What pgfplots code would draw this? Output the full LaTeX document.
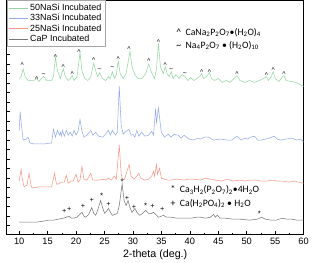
\documentclass[border=0pt]{standalone}
\usepackage{fontspec}
\setmainfont{Liberation Sans}
\newfontfamily\calfont{Carlito}
\usepackage{pgfplots}
\pgfplotsset{compat=1.18}
\definecolor{cgreen}{RGB}{150,212,165}
\definecolor{cblue}{RGB}{150,170,232}
\definecolor{cred}{RGB}{248,150,138}
\definecolor{cblack}{RGB}{120,120,120}
\begin{document}
\begin{tikzpicture}
\begin{axis}[
  width=304bp, height=240bp, scale only axis,
  xmin=7.8, xmax=60, ymin=0, ymax=240,
  xtick={10,15,...,60}, minor x tick num=1,
  ytick={9.7,19.4,...,236}, yticklabels={},
  xtick pos=bottom, ytick pos=left, tick align=inside,
  major tick length=3.5pt, minor tick length=2pt,
  /pgf/number format/assume math mode=true,
  ticklabel style={font=\fontsize{9.5}{11}\selectfont},
  xlabel={2-theta (deg.)},
  xlabel style={font=\fontsize{11}{13}\selectfont, yshift=2pt},
  axis line style={line width=0.8pt},
  every tick/.style={black, line width=0.6pt},
  legend style={at={(0,1)}, anchor=north west, draw=gray!70,
    font=\fontsize{9.2}{11}\selectfont, row sep=-1.5pt, inner sep=1.5pt,
    legend cell align=left},
  legend image code/.code={\draw[#1] (0cm,0cm) -- (0.7cm,0cm);},
  every axis plot/.append style={line width=0.55pt},
]
\addplot[cgreen] coordinates {
(10.0,160)(10.34,162)(10.69,170)(11.03,162)(11.55,158)(12.59,158)(13.10,160)(13.45,157)(13.97,160)(14.31,162)(14.83,158)(15.69,158)(16.03,162)(16.38,182)(16.72,168)(17.24,160)(17.41,164)(17.76,170)(18.10,162)(18.62,158)(18.97,160)(19.31,163)(19.66,158)(20.17,162)(20.69,187)(21.03,168)(21.55,160)(22.07,158)(22.59,162)(23.10,176)(23.45,168)(23.79,162)(24.14,166)(24.66,160)(25.17,158)(25.69,162)(26.03,160)(26.38,167)(26.72,160)(27.07,164)(27.41,178)(27.76,165)(28.28,160)(28.79,165)(29.48,188)(29.83,172)(30.34,164)(30.86,160)(31.55,160)(32.24,165)(32.76,175)(33.28,166)(33.79,160)(34.14,170)(34.48,196)(34.83,172)(35.34,165)(35.69,172)(36.03,164)(36.38,162)(36.72,167)(37.07,160)(37.59,164)(38.10,160)(38.62,164)(39.14,162)(39.66,158)(40.17,161)(40.69,158)(41.21,160)(41.72,162)(42.07,165)(42.41,160)(42.93,162)(43.45,166)(43.79,160)(44.31,158)(45.0,160)(45.69,156)(46.38,158)(47.07,156)(47.76,160)(48.28,163)(48.79,158)(49.66,156)(50.52,158)(51.38,156)(52.24,158)(52.93,160)(53.45,162)(53.79,158)(54.31,162)(54.66,167)(55.0,160)(55.69,157)(56.21,161)(56.55,163)(56.90,158)(57.76,157)(58.62,156)(59.31,154)(60.0,152)
};
\addlegendentry{50NaSi Incubated}
\addplot[cblue] coordinates {
(10.0,107)(10.17,126)(10.34,115)(10.69,97)(11.21,98)(11.55,100)(11.90,94)(12.59,93)(14.31,93)(15.69,94)(16.03,108)(16.38,100)(16.72,107)(17.07,102)(17.24,105)(17.41,101)(17.59,107)(17.93,101)(18.28,107)(18.62,102)(18.97,105)(19.31,101)(19.66,107)(20.0,102)(20.34,106)(20.69,118)(21.03,106)(21.38,100)(21.90,102)(22.59,107)(22.93,102)(23.45,105)(23.97,101)(24.66,100)(25.17,103)(25.69,107)(26.03,102)(26.38,107)(26.90,102)(27.24,105)(27.59,152)(27.93,112)(28.28,103)(28.79,106)(29.31,108)(29.66,102)(30.0,103)(30.34,100)(30.69,107)(31.03,101)(31.55,105)(32.07,101)(32.76,102)(33.28,106)(33.62,102)(33.97,129)(34.14,115)(34.48,130)(34.83,112)(35.0,105)(35.52,100)(36.21,103)(36.72,100)(37.24,103)(37.93,102)(38.45,99)(38.97,102)(39.83,98)(40.69,97)(41.38,99)(41.90,98)(42.59,100)(43.28,100)(44.14,97)(45.34,98)(46.55,97)(47.41,97)(48.28,101)(48.97,97)(49.66,99)(50.17,98)(50.69,100)(51.38,101)(51.90,97)(52.59,97)(53.28,98)(53.97,99)(54.83,101)(55.34,98)(56.03,97)(56.90,98)(57.93,99)(58.79,97)(59.48,98)(60.0,95)
};
\addlegendentry{33NaSi Incubated}
\addplot[cred] coordinates {
(10.0,55)(10.34,67)(10.52,58)(10.86,49)(11.38,51)(11.72,63)(12.07,51)(12.24,48)(13.45,49)(14.66,49)(15.69,49)(16.21,63)(16.55,52)(16.90,52)(17.41,54)(17.93,54)(18.28,61)(18.62,53)(19.14,55)(19.48,55)(20.0,62)(20.34,54)(20.69,56)(21.03,70)(21.38,57)(21.90,56)(22.59,63)(22.93,56)(23.28,56)(23.97,56)(24.66,57)(25.17,56)(25.69,58)(26.21,56)(26.72,60)(27.07,57)(27.59,92)(27.93,62)(28.10,58)(28.45,56)(28.79,62)(29.31,72)(29.66,60)(30.17,57)(30.69,60)(31.03,63)(31.38,58)(32.07,56)(32.76,57)(33.28,60)(33.62,65)(33.79,60)(34.14,72)(34.31,62)(34.66,68)(35.0,58)(35.52,57)(36.21,56)(36.72,56)(37.76,57)(38.97,56)(39.83,57)(40.69,57)(41.90,56)(42.76,58)(43.62,57)(44.48,56)(45.69,55)(46.55,57)(47.59,55)(48.79,56)(49.66,55)(50.52,56)(51.72,56)(52.59,55)(53.45,55)(54.48,56)(55.34,55)(56.21,55)(57.41,54)(58.45,55)(59.66,53)(60.0,53)
};
\addlegendentry{25NaSi Incubated}
\addplot[cblack] coordinates {
(10.0,13)(11.72,13)(13.10,13)(14.31,14)(15.17,15)(16.03,15)(16.90,16)(17.76,17)(18.28,18)(18.79,19)(19.14,17)(19.48,17)(20.17,18)(20.69,21)(21.03,23)(21.38,19)(21.72,18)(22.24,21)(22.76,28)(23.10,22)(23.45,20)(23.79,25)(24.31,35)(24.66,28)(25.0,22)(25.34,24)(25.69,27)(26.03,23)(26.38,20)(26.90,21)(27.24,22)(27.59,30)(28.10,52)(28.45,35)(28.79,30)(29.14,35)(29.48,28)(29.83,23)(30.34,27)(30.69,23)(31.21,20)(31.72,22)(32.24,25)(32.76,22)(33.28,22)(33.62,23)(34.14,20)(34.48,18)(35.0,19)(35.34,20)(35.86,18)(36.72,18)(37.76,17)(38.97,17)(40.17,17)(41.21,18)(41.90,18)(42.76,17)(43.62,18)(44.14,21)(44.48,18)(44.83,20)(45.34,17)(46.21,17)(47.59,16)(48.79,16)(50.52,15)(51.90,16)(52.59,18)(53.28,16)(54.31,15)(55.17,15)(56.21,17)(57.07,16)(57.93,16)(58.79,15)(59.66,15)(60.0,15)
};
\addlegendentry{CaP Incubated}
% annotation marks
\addplot[draw=none, mark=text, text mark={\textasciicircum}, text mark as node=true,
  text mark style={inner sep=0, font=\fontsize{7}{7}\selectfont, anchor=north, yshift=2pt}] coordinates {
(10.52,174)(13.10,160)(16.38,183)(17.76,172)(19.31,165)(20.52,188)(23.10,179)(27.41,181)(29.31,191)(32.76,178)(34.48,198)(35.69,174)(42.07,167)(43.45,167)(48.28,165)(53.45,164)(54.66,169)(56.55,165)
};
\addplot[draw=none, mark=text, text mark={\textasciitilde}, text mark as node=true,
  text mark style={inner sep=0, font=\fontsize{7}{7}\selectfont}] coordinates {
(14.31,163)(24.14,169)(26.38,171)(36.72,169)(39.14,164)
};
\addplot[draw=none, mark=text, text mark={+}, text mark as node=true,
  text mark style={inner sep=0, font=\fontsize{7.5}{7}\selectfont}] coordinates {
(17.93,24)(18.79,26)(21.21,29)(22.76,35)(25.69,31)(28.97,37)(30.17,28)(33.45,29)(35.17,26)
};
\addplot[draw=none, mark=text, text mark={*}, text mark as node=true,
  text mark style={inner sep=0, font=\fontsize{8}{8}\selectfont, yshift=-1.5pt}] coordinates {
(24.48,41)(28.10,56)(32.24,31)(52.24,23)
};
\node[anchor=west, inner sep=0, font=\calfont\fontsize{10}{12}\selectfont] at (axis cs:37.6,207)
  {\textasciicircum\ \ CaNa\textsubscript{2}P\textsubscript{2}O\textsubscript{7}•(H\textsubscript{2}O)\textsubscript{4}};
\node[anchor=west, inner sep=0, font=\calfont\fontsize{10}{12}\selectfont] at (axis cs:37.6,194)
  {\textasciitilde\ \ Na\textsubscript{4}P\textsubscript{2}O\textsubscript{7} • (H\textsubscript{2}O)\textsubscript{10}};
\node[anchor=west, inner sep=0, font=\calfont\fontsize{10}{12}\selectfont] at (axis cs:36.6,46)
  {*\ \ Ca\textsubscript{3}H\textsubscript{2}(P\textsubscript{2}O\textsubscript{7})\textsubscript{2}•4H\textsubscript{2}O};
\node[anchor=west, inner sep=0, font=\calfont\fontsize{10}{12}\selectfont] at (axis cs:36.6,32)
  {+\ \ Ca(H\textsubscript{2}PO\textsubscript{4})\textsubscript{2} • H\textsubscript{2}O};
\end{axis}
\end{tikzpicture}
\end{document}
